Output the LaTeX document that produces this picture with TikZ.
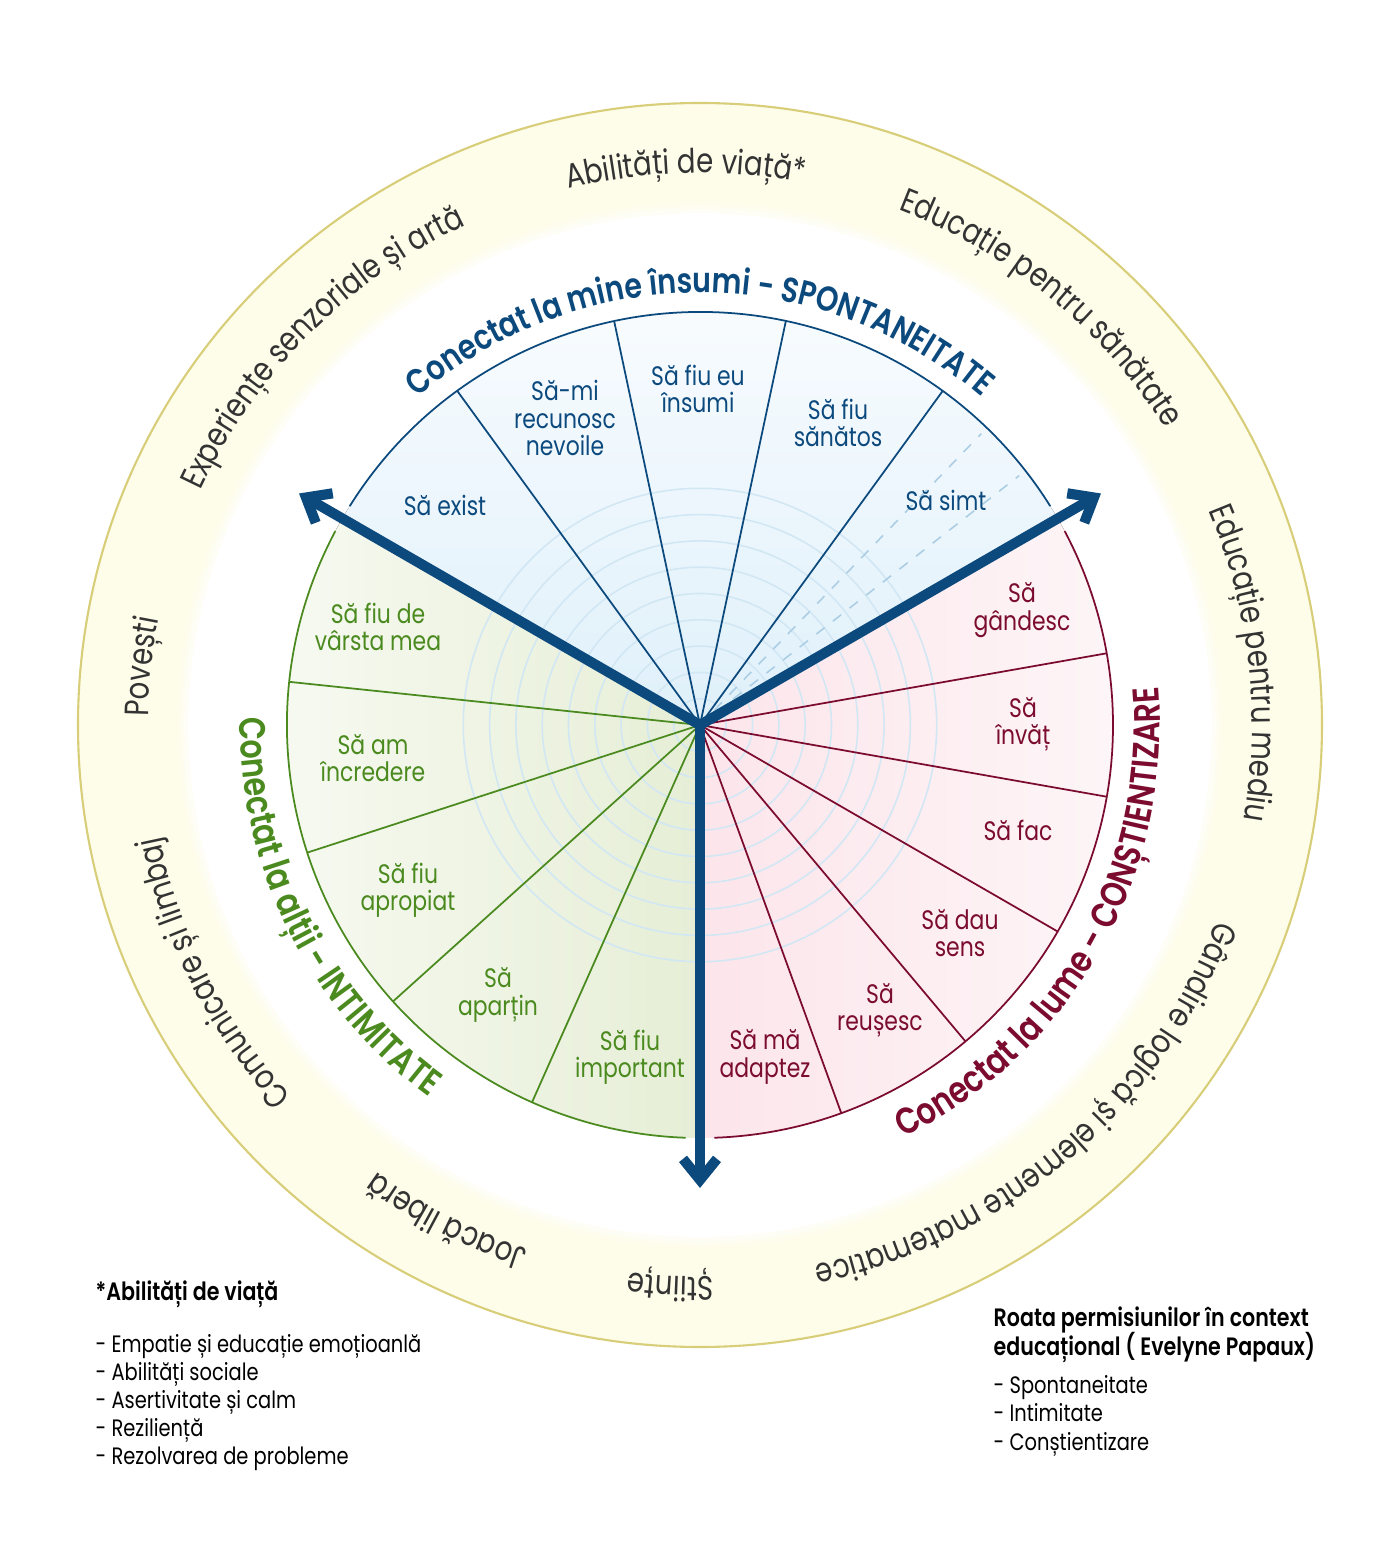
\documentclass[tikz,border=0pt]{standalone}
\usepackage{fontspec}
\setmainfont{Poppins}[FakeStretch=0.82]
\IfFontExistsTF{Poppins SemiBold}
  {\newfontfamily\semib{Poppins SemiBold}[FakeStretch=0.82]}
  {\newcommand\semib{\bfseries}}
\usepackage{tikz}
\usetikzlibrary{arrows.meta,decorations.text}
\usepackage{xcolor}
\definecolor{PermBlue}{HTML}{0C4A7E}
\definecolor{PermGreen}{HTML}{4B8A1F}
\definecolor{PermRed}{HTML}{7B0C30}
\definecolor{RingFill}{HTML}{FEFDEA}
\definecolor{RingEdge}{HTML}{D8CD78}
\definecolor{RingInk}{HTML}{333333}
\definecolor{GridBlue}{HTML}{D2E7F4}
\definecolor{DashBlue}{HTML}{ABCEE4}
\definecolor{SkyTop}{HTML}{FBFDFF}
\definecolor{SkyLow}{HTML}{DFF0FA}
\definecolor{LeafLight}{HTML}{F9FBF4}
\definecolor{LeafDeep}{HTML}{E6EED6}
\definecolor{RoseDeep}{HTML}{FCE5EB}
\definecolor{RoseLight}{HTML}{FDF5F7}
\newcommand\lblfont{\fontsize{7.6}{7.8}\selectfont}
\newcommand\ringfont{\fontsize{9.6}{10}\selectfont}
\newcommand\headfont{\semib\fontsize{9.9}{10}\selectfont}
\newcommand\sidefont{\semib\fontsize{10.5}{11}\selectfont}
\newcommand\notefont{\fontsize{6.75}{8}\selectfont}
\newcommand\notehead{\semib\fontsize{7.15}{8}\selectfont}

\begin{document}
\begin{tikzpicture}[
    lbl/.style={align=center,font=\lblfont,inner sep=0pt},
    spoke/.style={line width=0.5pt},
    axis/.style={PermBlue,line width=2.9pt,-{Straight Barb[length=2.1mm,width=3.4mm]}},
    ringtxt/.style={decorate,decoration={text along path,text align=center,
        text color=RingInk,text/.expanded={|\noexpand\ringfont|#1}}},
    note/.style={anchor=base west,inner sep=0pt,font=\notefont}]
  \useasboundingbox (-7,-8.25) rectangle (7,7.25);

  % outer ring
  \fill[RingFill,draw=RingEdge,line width=0.6pt] (0,0) circle (6.22);
  \fill[white] (0,0) circle (5.12);
  \foreach \r/\o in {5.14/.6,5.17/.35,5.21/.15}
    \draw[white,opacity=\o,line width=1pt] (0,0) circle (\r);

  % three sectors
  \fill[top color=SkyTop,bottom color=SkyLow] (0,0) -- (150:4.13)
       arc[start angle=150,end angle=30,radius=4.13] -- cycle;
  \fill[left color=LeafLight,right color=LeafDeep] (0,0) -- (150:4.13)
       arc[start angle=150,end angle=270,radius=4.13] -- cycle;
  \fill[left color=RoseDeep,right color=RoseLight] (0,0) -- (270:4.13)
       arc[start angle=270,end angle=390,radius=4.13] -- cycle;

  % target rings
  \foreach \k in {1,...,9}
    \draw[GridBlue,line width=0.45pt] (0,0) circle ({0.263*\k});
  \foreach \a in {38,46}
    \draw[DashBlue,dashed,line width=0.45pt] (0,0) -- (\a:4.05);

  % spokes and rims
  \foreach \a in {126,102,78,54}
    \draw[spoke,PermBlue] (0,0) -- (\a:4.13);
  \foreach \a in {174,198,222,246}
    \draw[spoke,PermGreen] (0,0) -- (\a:4.13);
  \foreach \a in {10,-10,-30,-50,-70}
    \draw[spoke,PermRed] (0,0) -- (\a:4.13);
  \draw[spoke,PermBlue] (148:4.13) arc[start angle=148,end angle=32,radius=4.13];
  \draw[spoke,PermGreen] (152:4.13) arc[start angle=152,end angle=268,radius=4.13];
  \draw[spoke,PermRed] (272:4.13) arc[start angle=272,end angle=388,radius=4.13];

  % axes
  \coordinate (O) at (0,0);
  \coordinate (tipL) at (150:4.63);
  \coordinate (tipR) at (30:4.63);
  \coordinate (tipD) at (270:4.63);
  \draw[axis] (O) -- (tipL);
  \draw[axis] (O) -- (tipR);
  \draw[axis] (O) -- (tipD);

  % sector labels
  \foreach \x/\y/\t [count=\i] in {-2.55/2.20/{Să exist},-1.35/3.07/{Să-mi\\recunosc\\nevoile},
      -0.02/3.36/{Să fiu eu\\însumi},1.38/3.02/{Să fiu\\sănătos},2.46/2.25/{Să simt}}
    \node[lbl,PermBlue] (self\i) at (\x,\y) {\t};
  \foreach \x/\y/\t [count=\i] in {3.22/1.15/{Să\\gândesc},3.23/0.01/{Să\\învăț},3.18/-1.05/{Să fac},
      2.60/-2.08/{Să dau\\sens},1.80/-2.85/{Să\\reușesc},0.65/-3.32/{Să mă\\adaptez}}
    \node[lbl,PermRed] (world\i) at (\x,\y) {\t};
  \foreach \x/\y/\t [count=\i] in {-3.22/0.98/{Să fiu de\\vârsta mea},-3.27/-0.33/{Să am\\încredere},
      -2.92/-1.65/{Să fiu\\apropiat},-2.02/-2.70/{Să\\aparțin},-0.70/-3.32/{Să fiu\\important}}
    \node[lbl,PermGreen] (others\i) at (\x,\y) {\t};

  % curved titles
  \path[decorate,decoration={text along path,text align=center,text color=PermBlue,
        text={|\headfont|Conectat la mine însumi - SPONTANEITATE}}]
       (150:4.32) arc[start angle=150,end angle=30,radius=4.32];
  \path[decorate,decoration={text along path,text align=center,text color=PermGreen,
        text={|\sidefont|Conectat la alții - INTIMITATE}}]
       (146.5:4.6) arc[start angle=146.5,end angle=266.5,radius=4.6];
  \path[decorate,decoration={text along path,text align=center,text color=PermRed,
        text={|\sidefont|Conectat la lume - CONȘTIENTIZARE}}]
       (-89.5:4.6) arc[start angle=-89.5,end angle=30.5,radius=4.6];

  % ring topics
  \foreach \a/\t in {91.5/{Abilități de viață*},50.7/{Educație pentru sănătate},
      6.5/{Educație pentru mediu},-49.4/{Gândire logică și elemente matematice},
      -93/{Științe},-117/{Joacă liberă},-153/{Comunicare și limbaj},
      174/{Povești},135/{Experiențe senzoriale și artă}}
    \path[ringtxt=\t] (\a+40:5.52) arc[start angle=\a+40,end angle=\a-40,radius=5.52];

  % notes
  \node[note,font=\notehead] (skillhead) at (-6.05,-5.75) {*Abilități de viață};
  \foreach \t [count=\i] in {Empatie și educație emoțioanlă,Abilități sociale,
      Asertivitate și calm,Reziliență,Rezolvarea de probleme}
    \node[note] (skill\i) at (-6.05,{-6.27-0.28*(\i-1)}) {- \t};
  \node[note,font=\notehead] (wheelhead) at (2.93,-6.01) {Roata permisiunilor în context};
  \node[note,font=\notehead] (wheelsub) at (2.93,-6.30) {educațional ( Evelyne Papaux)};
  \foreach \t [count=\i] in {Spontaneitate,Intimitate,Conștientizare}
    \node[note] (need\i) at (2.93,{-6.68-0.285*(\i-1)}) {- \t};
\end{tikzpicture}
\end{document}
